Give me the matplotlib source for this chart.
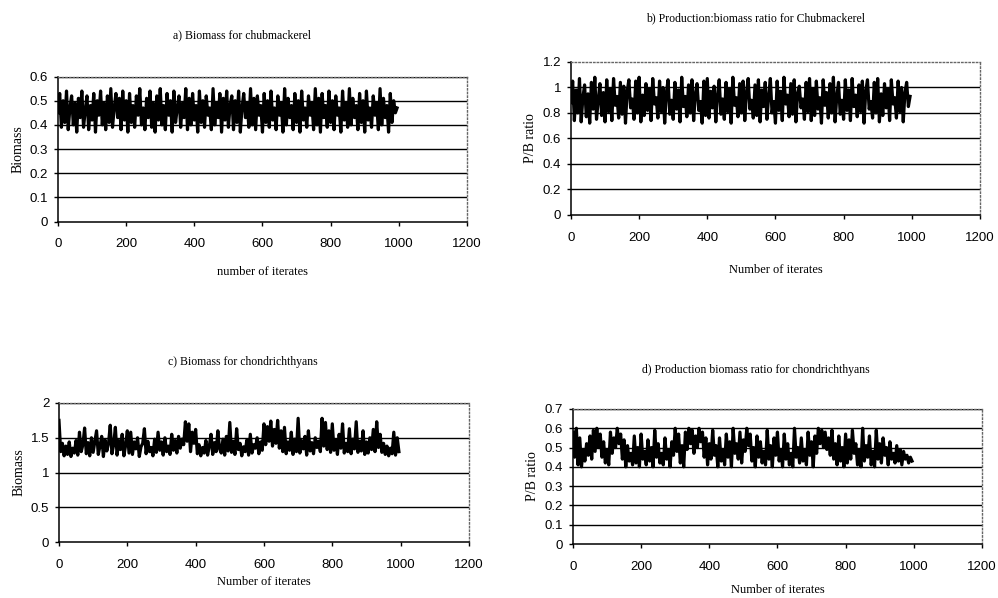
import matplotlib.pyplot as plt
import numpy as np

# values (every 5th iterate)
biomass_chub = [
    0.45, 0.53, 0.39, 0.50, 0.41, 0.54, 0.38, 0.47, 0.52, 0.40, 0.49, 0.37, 0.51, 0.43, 0.54, 0.39, 0.46, 0.52, 0.38, 0.48,
    0.42, 0.53, 0.37, 0.50, 0.44, 0.54, 0.40, 0.49, 0.38, 0.52, 0.41, 0.55, 0.39, 0.47, 0.53, 0.43, 0.51, 0.38, 0.54, 0.42,
    0.50, 0.37, 0.53, 0.41, 0.48, 0.39, 0.52, 0.44, 0.55, 0.40, 0.47, 0.38, 0.51, 0.43, 0.54, 0.39, 0.49, 0.37, 0.52, 0.42,
    0.55, 0.40, 0.48, 0.38, 0.53, 0.44, 0.50, 0.37, 0.54, 0.41, 0.47, 0.52, 0.39, 0.49, 0.43, 0.55, 0.38, 0.51, 0.40, 0.53,
    0.42, 0.48, 0.37, 0.54, 0.41, 0.50, 0.39, 0.52, 0.44, 0.47, 0.38, 0.55, 0.40, 0.49, 0.43, 0.53, 0.37, 0.51, 0.42, 0.54,
    0.39, 0.48, 0.52, 0.38, 0.50, 0.41, 0.54, 0.37, 0.47, 0.53, 0.43, 0.49, 0.39, 0.55, 0.40, 0.51, 0.38, 0.52, 0.44, 0.48,
    0.37, 0.53, 0.41, 0.50, 0.39, 0.54, 0.42, 0.47, 0.38, 0.52, 0.44, 0.49, 0.37, 0.55, 0.40, 0.51, 0.43, 0.48, 0.38, 0.53,
    0.41, 0.50, 0.37, 0.54, 0.42, 0.47, 0.39, 0.52, 0.44, 0.49, 0.38, 0.55, 0.40, 0.51, 0.37, 0.53, 0.43, 0.48, 0.39, 0.54,
    0.41, 0.50, 0.38, 0.52, 0.44, 0.47, 0.37, 0.54, 0.42, 0.49, 0.39, 0.55, 0.40, 0.51, 0.43, 0.48, 0.38, 0.53, 0.41, 0.50,
    0.37, 0.54, 0.42, 0.47, 0.39, 0.52, 0.44, 0.49, 0.38, 0.55, 0.40, 0.51, 0.43, 0.48, 0.37, 0.53, 0.41, 0.50, 0.45, 0.47,
]

pb_chub = [
    0.88, 1.05, 0.74, 0.98, 0.80, 1.07, 0.73, 0.92, 1.02, 0.77, 0.95, 0.72, 1.04, 0.83, 1.08, 0.75, 0.90, 1.03, 0.78, 0.96,
    0.73, 1.06, 0.81, 0.99, 0.74, 1.07, 0.86, 0.93, 0.76, 1.04, 0.79, 1.01, 0.72, 0.97, 1.06, 0.84, 0.91, 0.75, 1.05, 0.80,
    1.08, 0.73, 0.94, 0.78, 1.03, 0.82, 0.99, 0.74, 1.07, 0.87, 0.92, 0.76, 1.05, 0.81, 1.00, 0.72, 0.96, 1.06, 0.79, 0.90,
    0.75, 1.04, 0.83, 0.98, 0.73, 1.08, 0.85, 0.93, 0.77, 1.02, 0.80, 1.06, 0.74, 0.95, 1.03, 0.82, 0.89, 0.72, 1.05, 0.78,
    1.07, 0.76, 0.97, 0.84, 1.01, 0.73, 0.94, 1.06, 0.79, 0.91, 0.75, 1.04, 0.81, 0.99, 0.72, 1.08, 0.86, 0.92, 0.77, 1.03,
    0.80, 1.05, 0.74, 0.96, 1.07, 0.83, 0.90, 0.76, 1.02, 0.78, 1.06, 0.73, 0.98, 0.85, 1.04, 0.75, 0.93, 1.07, 0.80, 0.89,
    0.72, 1.05, 0.82, 0.97, 0.74, 1.08, 0.87, 0.94, 0.77, 1.03, 0.79, 1.06, 0.73, 0.95, 1.01, 0.84, 0.91, 0.75, 1.04, 0.81,
    1.07, 0.74, 0.99, 0.78, 1.05, 0.83, 0.92, 0.72, 1.06, 0.86, 0.96, 0.76, 1.03, 0.80, 1.08, 0.73, 0.93, 1.04, 0.79, 0.90,
    0.75, 1.06, 0.82, 0.98, 0.74, 1.07, 0.85, 0.94, 0.77, 1.02, 0.81, 1.05, 0.72, 0.97, 1.06, 0.83, 0.89, 0.76, 1.04, 0.80,
    1.07, 0.73, 0.95, 0.78, 1.03, 0.84, 0.99, 0.74, 1.06, 0.87, 0.92, 0.76, 1.05, 0.81, 1.00, 0.73, 0.96, 1.04, 0.85, 0.93,
]

biomass_chond = [
    1.75, 1.30, 1.42, 1.24, 1.38, 1.26, 1.44, 1.23, 1.35, 1.28, 1.46, 1.25, 1.58, 1.30, 1.40, 1.64, 1.27, 1.43, 1.24, 1.50,
    1.29, 1.45, 1.60, 1.26, 1.38, 1.52, 1.23, 1.47, 1.31, 1.42, 1.68, 1.27, 1.40, 1.65, 1.25, 1.46, 1.33, 1.55, 1.24, 1.39,
    1.60, 1.28, 1.58, 1.26, 1.44, 1.34, 1.50, 1.23, 1.37, 1.42, 1.63, 1.27, 1.45, 1.30, 1.36, 1.24, 1.48, 1.29, 1.58, 1.32,
    1.44, 1.25, 1.50, 1.30, 1.38, 1.26, 1.55, 1.32, 1.46, 1.28, 1.52, 1.35, 1.48, 1.40, 1.73, 1.45, 1.70, 1.30, 1.58, 1.42,
    1.62, 1.27, 1.40, 1.24, 1.36, 1.28, 1.46, 1.25, 1.38, 1.55, 1.26, 1.43, 1.30, 1.60, 1.34, 1.28, 1.48, 1.25, 1.52, 1.31,
    1.72, 1.29, 1.45, 1.26, 1.63, 1.33, 1.42, 1.24, 1.37, 1.30, 1.47, 1.25, 1.55, 1.28, 1.40, 1.35, 1.50, 1.27, 1.44, 1.32,
    1.70, 1.40, 1.66, 1.45, 1.74, 1.38, 1.62, 1.42, 1.75, 1.35, 1.60, 1.30, 1.65, 1.27, 1.44, 1.32, 1.58, 1.26, 1.48, 1.30,
    1.78, 1.28, 1.46, 1.34, 1.52, 1.25, 1.60, 1.31, 1.43, 1.27, 1.50, 1.36, 1.45, 1.30, 1.78, 1.38, 1.72, 1.33, 1.60, 1.29,
    1.70, 1.32, 1.47, 1.26, 1.55, 1.35, 1.70, 1.28, 1.42, 1.30, 1.63, 1.27, 1.48, 1.34, 1.73, 1.29, 1.45, 1.31, 1.60, 1.26,
    1.44, 1.28, 1.50, 1.33, 1.62, 1.30, 1.73, 1.36, 1.55, 1.29, 1.42, 1.26, 1.38, 1.24, 1.35, 1.27, 1.58, 1.25, 1.50, 1.30,
]

pb_chond = [
    0.58, 0.45, 0.60, 0.41, 0.55, 0.40, 0.49, 0.43, 0.52, 0.46, 0.56, 0.44, 0.59, 0.48, 0.60, 0.50, 0.57, 0.45, 0.53, 0.42,
    0.49, 0.41, 0.58, 0.47, 0.55, 0.50, 0.60, 0.52, 0.57, 0.44, 0.54, 0.40, 0.51, 0.43, 0.47, 0.41, 0.56, 0.42, 0.50, 0.40,
    0.57, 0.44, 0.48, 0.41, 0.54, 0.43, 0.50, 0.40, 0.59, 0.45, 0.52, 0.42, 0.47, 0.41, 0.55, 0.44, 0.49, 0.40, 0.53, 0.46,
    0.60, 0.48, 0.57, 0.42, 0.51, 0.40, 0.58, 0.49, 0.60, 0.52, 0.59, 0.47, 0.56, 0.50, 0.60, 0.53, 0.58, 0.45, 0.55, 0.41,
    0.52, 0.44, 0.59, 0.46, 0.51, 0.40, 0.55, 0.43, 0.49, 0.41, 0.57, 0.45, 0.53, 0.40, 0.60, 0.47, 0.52, 0.44, 0.58, 0.42,
    0.54, 0.48, 0.60, 0.51, 0.57, 0.43, 0.50, 0.40, 0.56, 0.45, 0.53, 0.42, 0.48, 0.41, 0.59, 0.44, 0.51, 0.40, 0.55, 0.46,
    0.58, 0.43, 0.49, 0.40, 0.57, 0.44, 0.52, 0.41, 0.47, 0.40, 0.60, 0.45, 0.50, 0.42, 0.55, 0.43, 0.49, 0.41, 0.58, 0.46,
    0.53, 0.40, 0.56, 0.47, 0.60, 0.52, 0.59, 0.50, 0.58, 0.49, 0.55, 0.46, 0.59, 0.44, 0.52, 0.41, 0.56, 0.43, 0.50, 0.40,
    0.57, 0.42, 0.54, 0.44, 0.59, 0.47, 0.52, 0.41, 0.49, 0.40, 0.60, 0.43, 0.51, 0.45, 0.56, 0.41, 0.48, 0.40, 0.59, 0.44,
    0.52, 0.42, 0.55, 0.46, 0.50, 0.41, 0.53, 0.44, 0.47, 0.42, 0.51, 0.43, 0.49, 0.41, 0.48, 0.44, 0.46, 0.42, 0.45, 0.43,
]

iterates = np.arange(len(biomass_chub)) * 5

xticks = [0, 200, 400, 600, 800, 1000, 1200]

serif = "Liberation Serif"
sans = "Liberation Sans"

fig = plt.figure(figsize=(9.98, 5.98), dpi=100)

panels = [
    # rect, series, yticks, ylabel, title, xlabel, title_xy, xlabel_y, dotted_top
    ([0.0581, 0.6295, 0.4098, 0.2425], biomass_chub, [0, 0.1, 0.2, 0.3, 0.4, 0.5, 0.6],
     "Biomass", "a) Biomass for chubmackerel", "number of iterates", (0.242, 0.941), 0.545, False),
    ([0.5721, 0.6405, 0.4098, 0.2559], pb_chub, [0, 0.2, 0.4, 0.6, 0.8, 1, 1.2],
     "P/B ratio", "b) Production:biomass ratio for Chubmackerel", "Number of iterates", (0.757, 0.970), 0.548, True),
    ([0.0591, 0.0936, 0.4108, 0.2325], biomass_chond, [0, 0.5, 1, 1.5, 2],
     "Biomass", "c) Biomass for chondrichthyans", "Number of iterates", (0.243, 0.395), 0.026, False),
    ([0.5741, 0.0903, 0.4098, 0.2258], pb_chond, [0, 0.1, 0.2, 0.3, 0.4, 0.5, 0.6, 0.7],
     "P/B ratio", "d) Production biomass ratio for chondrichthyans", "Number of iterates", (0.757, 0.381), 0.013, False),
]

for rect, series, yticks, ylabel, title, xlabel, txy, xly, dotted_top in panels:
    ax = fig.add_axes(rect)
    ax.plot(iterates, series, color="black", lw=2.3)
    ax.set_xlim(0, 1200)
    ax.set_ylim(yticks[0], yticks[-1])
    ax.set_xticks(xticks)
    ax.set_yticks(yticks)
    ax.set_yticklabels([("%g" % t) for t in yticks])
    for t in yticks[1:]:
        if t == yticks[-1] and dotted_top:
            continue
        ax.axhline(t, color="black", lw=1.0, zorder=0)
    ax.spines["left"].set_color("black")
    ax.spines["bottom"].set_color("black")
    ax.spines["left"].set_linewidth(1.1)
    ax.spines["bottom"].set_linewidth(1.1)
    for s in ("top", "right"):
        ax.spines[s].set_color("#666666")
        ax.spines[s].set_linestyle(":")
        ax.spines[s].set_linewidth(1.0)
    ax.tick_params(axis="x", direction="out", length=3, width=1.0, pad=9,
                   labelsize=9.5)
    ax.tick_params(axis="y", direction="out", length=3, width=1.0, pad=4,
                   labelsize=9.5)
    for lab in ax.get_xticklabels() + ax.get_yticklabels():
        lab.set_fontfamily(sans)
    ax.set_ylabel(ylabel, fontfamily=serif, fontsize=10, labelpad=4)
    fig.text(txy[0], txy[1], title, fontfamily=serif, fontsize=8.5,
             ha="center", va="center")
    fig.text(rect[0] + rect[2] / 2, xly, xlabel, fontfamily=serif, fontsize=9,
             ha="center", va="center")

fig.savefig("out.png", dpi=100)
